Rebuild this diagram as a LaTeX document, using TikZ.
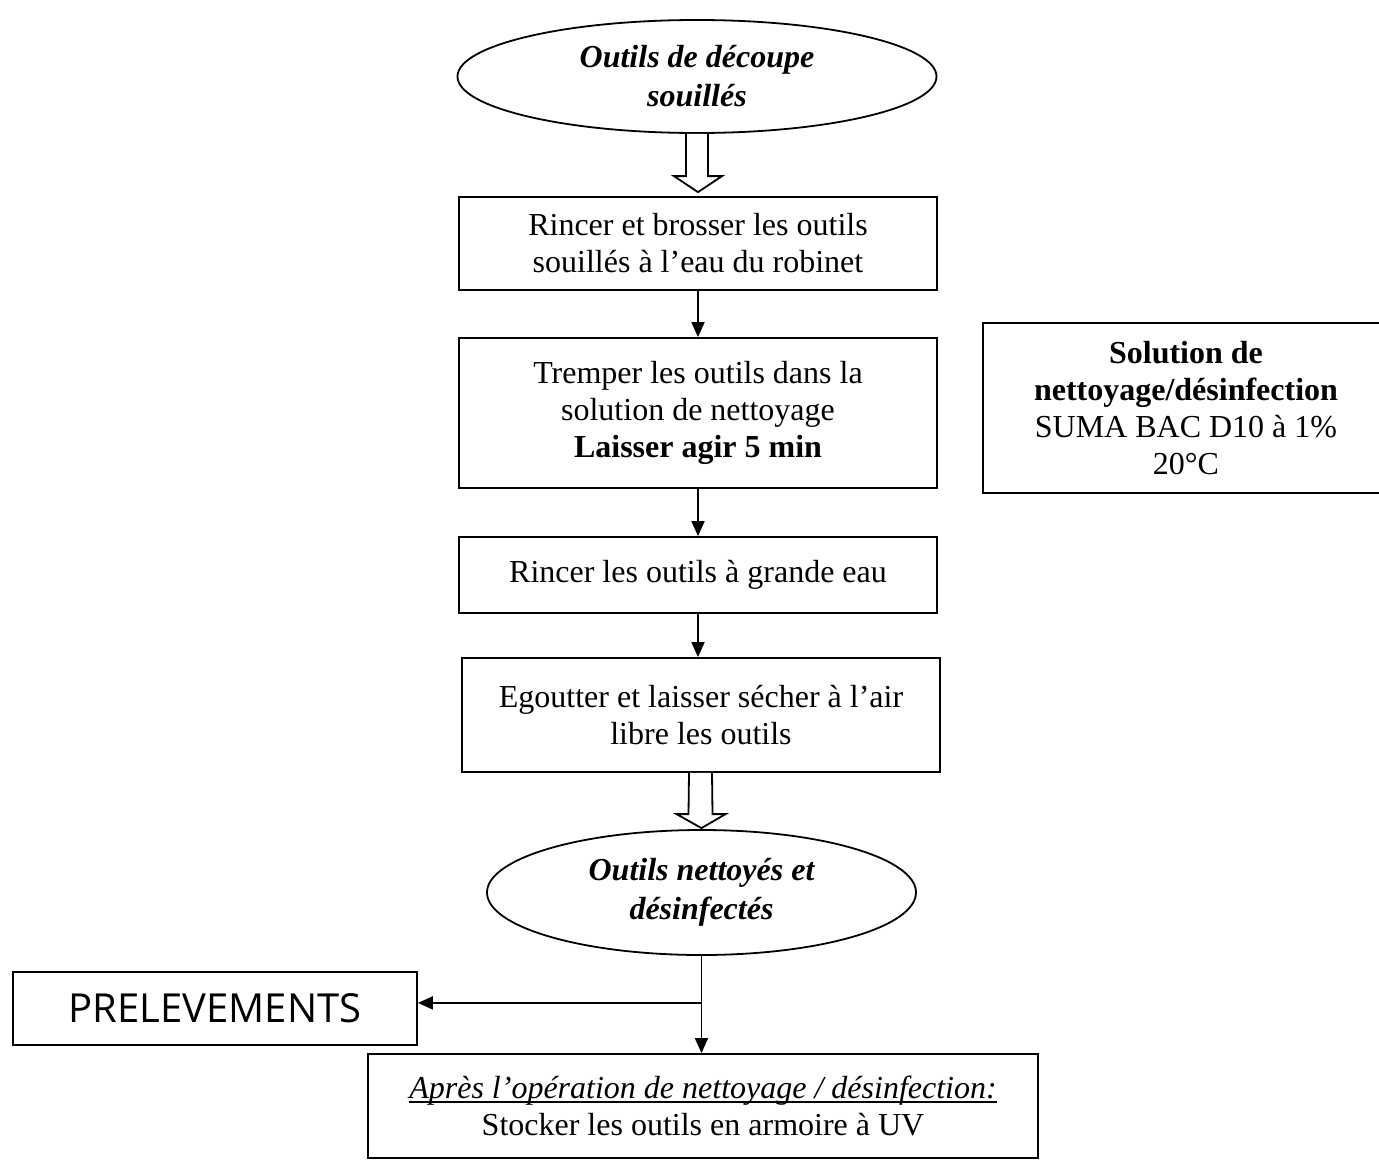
\documentclass[tikz,border=0pt]{standalone}
\usepackage{fontspec}
\setmainfont{Liberation Serif}
\newfontfamily\prfont{Open Sans}
\newcommand\myul[1]{\setbox0=\hbox{#1}\rlap{\rule[-4pt]{\wd0}{1.6pt}}\box0}
\usetikzlibrary{shapes.geometric,arrows.meta,calc}
\tikzset{
  box/.style={draw, line width=1.8pt, rectangle, inner sep=0pt, align=center,
    font=\fontsize{32}{37}\selectfont},
  oval/.style={draw, line width=1.8pt, ellipse, inner sep=0pt, align=center,
    font=\fontsize{32}{39}\selectfont\bfseries\itshape},
  arr/.style={line width=1.8pt, -{Triangle[length=15pt,width=13pt]}},
  hollow/.style={line width=1.8pt, fill=white, line join=miter}
}
\begin{document}
\begin{tikzpicture}[x=1pt,y=-1pt]
\useasboundingbox[fill=white] (0,0) rectangle (1379,1162);

\node[oval, minimum width=479, minimum height=113] (e1) at (697,76.5)
  {Outils de découpe\\souillés};
\node[box, minimum width=478, minimum height=93] (b1) at (698,243.5)
  {Rincer et brosser les outils\\souillés à l’eau du robinet};
\node[box, minimum width=478, minimum height=150] (b2) at (698,413)
  {Tremper les outils dans la\\solution de nettoyage\\\textbf{Laisser agir 5 min}};
\node[box, minimum width=478, minimum height=76] (b3) at (698,575)
  {Rincer les outils à grande eau};
\node[box, minimum width=478, minimum height=114] (b4) at (701,715)
  {Egoutter et laisser sécher à l’air\\libre les outils};
\node[oval, minimum width=429, minimum height=125] (e2) at (701.5,892.5)
  {Outils nettoyés et\\désinfectés};
\node[box, minimum width=404, minimum height=73, font=\fontsize{40}{44}\selectfont\prfont] (pr) at (215,1008.5)
  {PRELEVEMENTS};
\node[box, minimum width=670, minimum height=104] (b5) at (703,1106)
  {\myul{\textit{Après l’opération de nettoyage / désinfection:}}\\Stocker les outils en armoire à UV};
\node[box, minimum width=406, minimum height=170] (sol) at (1186,408)
  {\textbf{Solution de}\\\textbf{nettoyage/désinfection}\\SUMA BAC D10 à 1\%\\20°C};

% hollow arrow e1 -> b1
\draw[hollow] ($(e1.south)+(-11,0)$) -- ($(b1.north)+(-12,-20)$) -- ($(b1.north)+(-24,-20)$)
  -- ($(b1.north)+(0,-4)$) -- ($(b1.north)+(24,-20)$) -- ($(b1.north)+(10,-20)$)
  -- ($(e1.south)+(11,0)$);

\draw[arr] (b1.south) -- (b1.south |- b2.north);
\draw[arr] (b2.south) -- (b2.south |- b3.north);
\draw[arr] (b3.south) -- (b3.south |- b4.north);

% hollow arrow b4 -> e2
\draw[hollow] ($(b4.south)+(-12,0)$) -- ($(e2.north)+(-13,-15)$) -- ($(e2.north)+(-25,-15)$)
  -- ($(e2.north)+(0,-1)$) -- ($(e2.north)+(24,-15)$) -- ($(e2.north)+(11,-15)$)
  -- ($(b4.south)+(11,0)$);

\coordinate (br) at ($(e2.south)+(0,47)$);
\draw[arr] (e2.south) -- (e2.south |- b5.north);
\draw[arr] (br) -- (br -| pr.east);
\end{tikzpicture}
\end{document}
